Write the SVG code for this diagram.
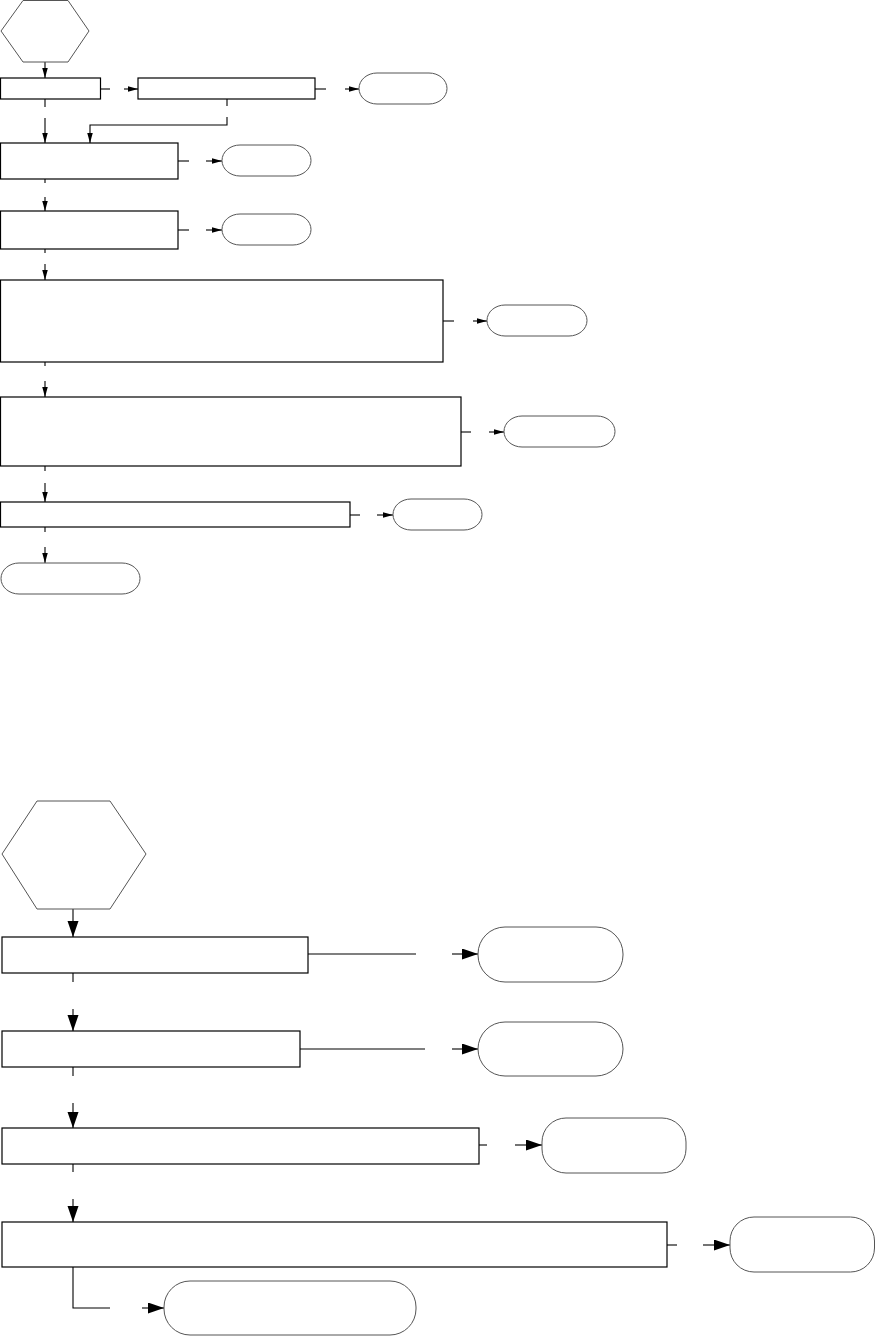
<svg xmlns="http://www.w3.org/2000/svg" width="876" height="1336" viewBox="0 0 876 1336">
<style>
.box{fill:#fff;stroke:#000;stroke-width:1.2}
.term{fill:#fff;stroke:#555;stroke-width:1}
.hex{fill:#fff;stroke:#555;stroke-width:1}
.c{fill:none;stroke:#000;stroke-width:1.1}
.as{marker-end:url(#ah-s)}
.al{marker-end:url(#ah-l)}
</style>
<defs>
<marker id="ah-s" markerUnits="userSpaceOnUse" markerWidth="11" markerHeight="6" refX="10" refY="2.75" orient="auto"><path d="M0,0 L10,2.75 L0,5.5 z" fill="#000"/></marker>
<marker id="ah-l" markerUnits="userSpaceOnUse" markerWidth="17" markerHeight="12" refX="16" refY="5.5" orient="auto"><path d="M0,0 L16,5.5 L0,11 z" fill="#000"/></marker>
</defs>
<rect width="876" height="1336" fill="#fff"/>
<g id="connectors">
<path class="c as" d="M45,62 V78"/>
<path class="c" d="M100.5,89 H110"/><path class="c as" d="M124,89 H138"/>
<path class="c" d="M315,89 H326"/><path class="c as" d="M345,89 H359"/>
<path class="c" d="M227,99 V106"/><path class="c as" d="M227,117 V125 H90 V143"/>
<path class="c" d="M45,99 V107"/><path class="c as" d="M45,118 V143"/>
<path class="c" d="M178,161 H189"/><path class="c as" d="M206,161 H222"/>
<path class="c" d="M45,179 V183"/><path class="c as" d="M45,197 V211"/>
<path class="c" d="M178,230 H189"/><path class="c as" d="M206,230 H222"/>
<path class="c" d="M45,249 V253"/><path class="c as" d="M45,264 V280"/>
<path class="c" d="M443,321 H454"/><path class="c as" d="M473,321 H487"/>
<path class="c" d="M45,362 V366"/><path class="c as" d="M45,381 V397"/>
<path class="c" d="M461,432 H471"/><path class="c as" d="M489,432 H504"/>
<path class="c" d="M45,466 V471"/><path class="c as" d="M45,483 V502"/>
<path class="c" d="M350,515 H360"/><path class="c as" d="M377,515 H393"/>
<path class="c" d="M45,527 V532"/><path class="c as" d="M45,547 V563"/>
<path class="c al" d="M73,909 V937"/>
<path class="c" d="M308,954 H416"/><path class="c al" d="M452,954 H478"/>
<path class="c" d="M73,973 V982"/><path class="c al" d="M73,1009 V1031"/>
<path class="c" d="M300,1049 H425"/><path class="c al" d="M452,1049 H478"/>
<path class="c" d="M73,1067 V1076"/><path class="c al" d="M73,1103 V1128"/>
<path class="c" d="M479,1145 H487"/><path class="c al" d="M515,1145 H542"/>
<path class="c" d="M73,1164 V1172"/><path class="c al" d="M73,1199 V1222"/>
<path class="c" d="M667,1245 H677"/><path class="c al" d="M703,1245 H730"/>
<path class="c" d="M73,1267 V1308 H110"/><path class="c al" d="M142,1308 H164"/>
</g>
<g id="hex1"><polygon class="hex" points="1,31 23,0.5 68,0.5 89,31 68,62 23,62"/></g>
<g id="box1"><rect class="box" x="0.5" y="78" width="100" height="21"/></g>
<g id="box2"><rect class="box" x="138" y="78" width="177" height="21"/></g>
<g id="term1"><rect class="term" x="359" y="73" width="88" height="31" rx="18" ry="15.5"/></g>
<g id="box3"><rect class="box" x="0.5" y="143" width="177.5" height="36"/></g>
<g id="term2"><rect class="term" x="222" y="145" width="89" height="31" rx="18" ry="15.5"/></g>
<g id="box4"><rect class="box" x="0.5" y="211" width="177.5" height="38"/></g>
<g id="term3"><rect class="term" x="222" y="214" width="89" height="31" rx="18" ry="15.5"/></g>
<g id="box5"><rect class="box" x="0.5" y="280" width="442.5" height="82"/></g>
<g id="term4"><rect class="term" x="487" y="305" width="100" height="31" rx="18" ry="15.5"/></g>
<g id="box6"><rect class="box" x="0.5" y="397" width="460.5" height="69"/></g>
<g id="term5"><rect class="term" x="504" y="416" width="111" height="31" rx="18" ry="15.5"/></g>
<g id="box7"><rect class="box" x="0.5" y="502" width="349.5" height="25"/></g>
<g id="term6"><rect class="term" x="393" y="499" width="89" height="31" rx="18" ry="15.5"/></g>
<g id="term7"><rect class="term" x="1" y="563" width="139" height="31" rx="18" ry="15.5"/></g>
<g id="hex2"><polygon class="hex" points="2,854 37,801 110,801 146,854 110,909 37,909"/></g>
<g id="box8"><rect class="box" x="2" y="937" width="306" height="36"/></g>
<g id="term8"><rect class="term" x="478" y="927" width="145" height="55" rx="27" ry="27"/></g>
<g id="box9"><rect class="box" x="2" y="1031" width="298" height="36"/></g>
<g id="term9"><rect class="term" x="478" y="1022" width="145" height="54" rx="27" ry="27"/></g>
<g id="box10"><rect class="box" x="2" y="1128" width="477" height="36"/></g>
<g id="term10"><rect class="term" x="542" y="1118" width="144" height="55" rx="24" ry="24"/></g>
<g id="box11"><rect class="box" x="2" y="1222" width="665" height="45"/></g>
<g id="term11"><rect class="term" x="730" y="1217" width="144.5" height="55" rx="24" ry="24"/></g>
<g id="term12"><rect class="term" x="164" y="1281" width="252" height="54" rx="26" ry="26"/></g>
</svg>
